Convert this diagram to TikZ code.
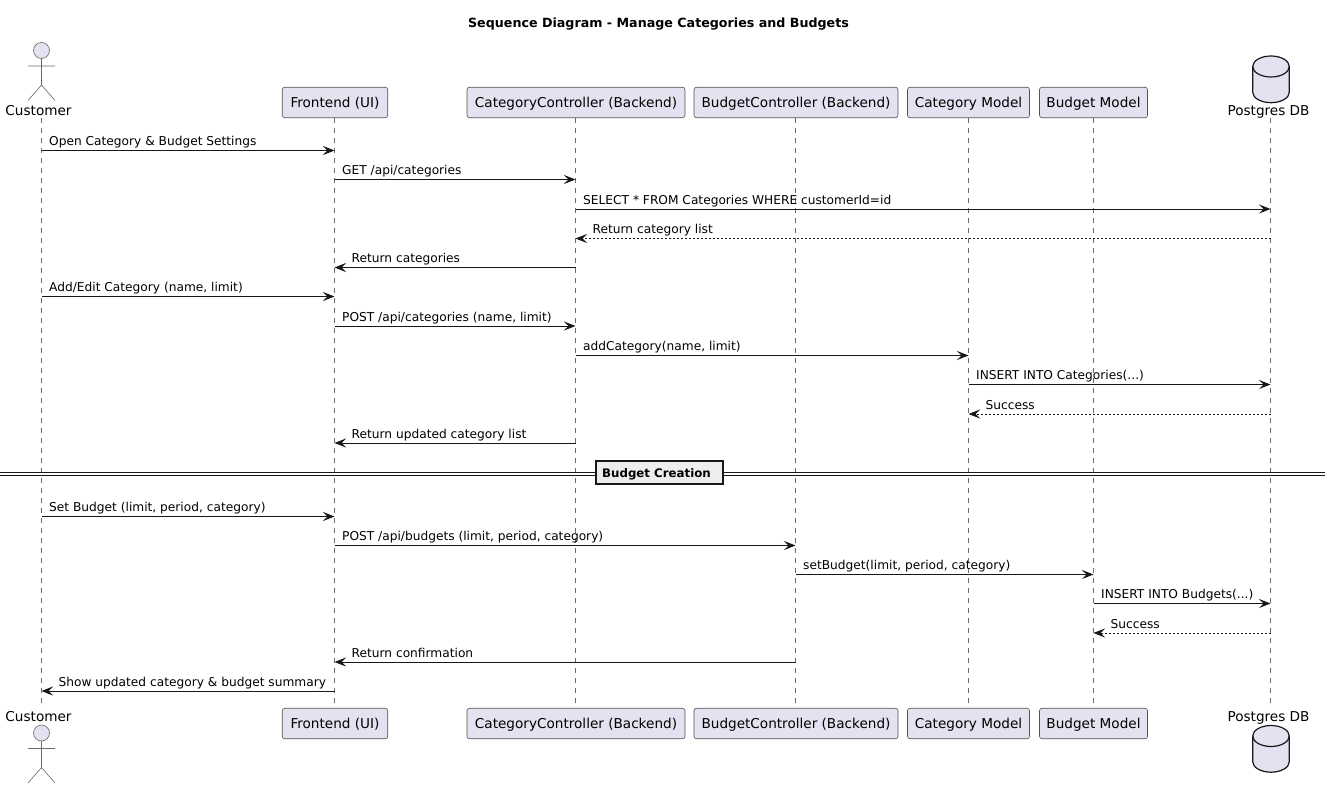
\documentclass[tikz,border=0pt]{standalone}
\usepackage{fontspec}
\setmainfont{DejaVu Sans}
\usetikzlibrary{arrows.meta}
\definecolor{pfill}{HTML}{E2E2F0}
\definecolor{pline}{HTML}{181818}
\newcommand{\lowered}[1]{\raisebox{-5.2pt}[0pt][0pt]{#1}}
\tikzset{
  x=1pt,y=-1pt,
  part/.style={draw=pline!75!white,fill=pfill,rounded corners=2.5pt,line width=.6pt,minimum height=30.5pt,inner sep=0pt,font=\fontsize{13.6}{16}\selectfont,text=black},
  plain/.style={inner sep=0pt,anchor=base,font=\fontsize{13.6}{16}\selectfont,text=black},
  msgtext/.style={inner sep=0pt,anchor=base west,font=\fontsize{12.2}{14}\selectfont,text=black},
  life/.style={draw=pline!65!white,line width=.5pt,dash pattern=on 5pt off 5pt},
  msgline/.style={draw=pline,line width=.9pt,-{Stealth[length=11.5pt,width=9pt,inset=4.5pt,fill=pline]}},
  retline/.style={msgline,dash pattern=on 2pt off 2pt},
  figure/.style={draw=pline!65!white,line width=.6pt},
  db/.style={draw=pline,fill=pfill,line width=1.2pt},
}
\newcounter{mm}
\newcommand{\rmsg}[5][msgline]{% from to y label
  \stepcounter{mm}
  \draw[#1] (#2 |- 0,#4) -- (#3 |- 0,#4);
  \node[msgtext] (m\themm) at ([xshift=7.5pt]#2 |- 0,{#4-5}) {#5};}
\newcommand{\lmsg}[5][msgline]{%
  \stepcounter{mm}
  \draw[#1] (#2 |- 0,#4) -- (#3 |- 0,#4);
  \node[msgtext] (m\themm) at ([xshift=17pt]#3 |- 0,{#4-5}) {#5};}
\newcommand{\actor}[2]{% x, head y
  \draw[figure,fill=pfill] (#1,#2) circle (8);
  \draw[figure] (#1,{#2+8}) -- (#1,{#2+34.5}) (#1-13.5,{#2+15.5}) -- (#1+13.5,{#2+15.5})
    (#1-13.5,{#2+50}) -- (#1,{#2+34.5}) -- (#1+13.5,{#2+50});}
\newcommand{\cyl}[2]{% x, top y
  \draw[db] (#1-18.3,{#2+10.5}) .. controls (#1-18.3,{#2+4.7}) and (#1-10,#2) .. (#1,#2) .. controls (#1+10,#2) and (#1+18.3,{#2+4.7}) .. (#1+18.3,{#2+10.5})
    -- (#1+18.3,{#2+36.2}) .. controls (#1+18.3,{#2+42}) and (#1+10,{#2+46.7}) .. (#1,{#2+46.7}) .. controls (#1-10,{#2+46.7}) and (#1-18.3,{#2+42}) .. (#1-18.3,{#2+36.2}) -- cycle;
  \draw[db,fill=none] (#1-18.3,{#2+10.5}) .. controls (#1-18.3,{#2+16.3}) and (#1-10,{#2+21}) .. (#1,{#2+21}) .. controls (#1+10,{#2+21}) and (#1+18.3,{#2+16.3}) .. (#1+18.3,{#2+10.5});}
\begin{document}
\begin{tikzpicture}
\useasboundingbox (0,0) rectangle (1325,789);
\fill[white] (0,0) rectangle (1325,789);
\node[inner sep=0pt,font=\bfseries\fontsize{12.67}{15}\selectfont] (title) at (658.5,24) {Sequence Diagram - Manage Categories and Budgets};
% lifeline coordinates
\coordinate (cu) at (41.5,118);
\coordinate (fe) at (334.5,118);
\coordinate (cc) at (575.5,118);
\coordinate (bc) at (795.5,118);
\coordinate (cm) at (968.5,118);
\coordinate (bm) at (1093.5,118);
\coordinate (db) at (1270.5,118);
\coordinate (cue) at (41.5,708);
\coordinate (fee) at (334.5,708);
\coordinate (cce) at (575.5,708);
\coordinate (bce) at (795.5,708);
\coordinate (cme) at (968.5,708);
\coordinate (bme) at (1093.5,708);
\coordinate (dbe) at (1270.5,708);
\foreach \a/\b in {cu/cue,fe/fee,cc/cce,bc/bce,cm/cme,bm/bme,db/dbe}{\draw[life] (\a) -- (\b);}
% top
\actor{41.5}{50.5}
\node[plain] (cutop) at (38.5,116) {Customer};
\node[part,minimum width=105.5pt] (fet) at (335,102.5) {\lowered{Frontend (UI)}};
\node[part,minimum width=218pt] (cct) at (576,102.5) {\lowered{CategoryController (Backend)}};
\node[part,minimum width=204pt] (bct) at (796,102.5) {\lowered{BudgetController (Backend)}};
\node[part,minimum width=122pt] (cmt) at (968.5,102.5) {\lowered{Category Model}};
\node[part,minimum width=108pt] (bmt) at (1093.5,102.5) {\lowered{Budget Model}};
\cyl{1271}{56}
\node[plain] (dbtop) at (1268.5,116) {Postgres DB};
% bottom
\node[plain] (cubot) at (38.5,721.7) {Customer};
\actor{41.5}{733}
\node[part,minimum width=105.5pt] (feb) at (335,723.5) {\lowered{Frontend (UI)}};
\node[part,minimum width=218pt] (ccb) at (576,723.5) {\lowered{CategoryController (Backend)}};
\node[part,minimum width=204pt] (bcb) at (796,723.5) {\lowered{BudgetController (Backend)}};
\node[part,minimum width=122pt] (cmb) at (968.5,723.5) {\lowered{Category Model}};
\node[part,minimum width=108pt] (bmb) at (1093.5,723.5) {\lowered{Budget Model}};
\cyl{1271}{725.5}
\node[plain] (dbbot) at (1268.5,721.7) {Postgres DB};
% messages
\rmsg{cu}{fe}{150.5}{Open Category \& Budget Settings}
\rmsg{fe}{cc}{179.5}{GET /api/categories}
\rmsg{cc}{db}{209}{SELECT * FROM Categories WHERE customerId=id}
\lmsg[retline]{db}{cc}{238.5}{Return category list}
\lmsg{cc}{fe}{267.5}{Return categories}
\rmsg{cu}{fe}{296.5}{Add/Edit Category (name, limit)}
\rmsg{fe}{cc}{326}{POST /api/categories (name, limit)}
\rmsg{cc}{cm}{355.5}{addCategory(name, limit)}
\rmsg{cm}{db}{384.5}{INSERT INTO Categories(...)}
\lmsg[retline]{db}{cm}{414}{Success}
\lmsg{cc}{fe}{443}{Return updated category list}
% divider
\draw[pline,line width=1pt] (0,472.3) -- (1325,472.3) (0,475.3) -- (1325,475.3);
\node[draw=pline,fill=black!7,line width=1.5pt,minimum width=127pt,minimum height=23pt,inner sep=0pt,font=\bfseries\fontsize{11.8}{14}\selectfont] (div) at (659.5,472.5) {\hspace*{-6pt}\lowered{Budget Creation}};
\rmsg{cu}{fe}{516.5}{Set Budget (limit, period, category)}
\rmsg{fe}{bc}{545.5}{POST /api/budgets (limit, period, category)}
\rmsg{bc}{bm}{574.5}{setBudget(limit, period, category)}
\rmsg{bm}{db}{603.5}{INSERT INTO Budgets(...)}
\lmsg[retline]{db}{bm}{633}{Success}
\lmsg{bc}{fe}{662}{Return confirmation}
\lmsg{fe}{cu}{691}{Show updated category \& budget summary}
\end{tikzpicture}
\end{document}
